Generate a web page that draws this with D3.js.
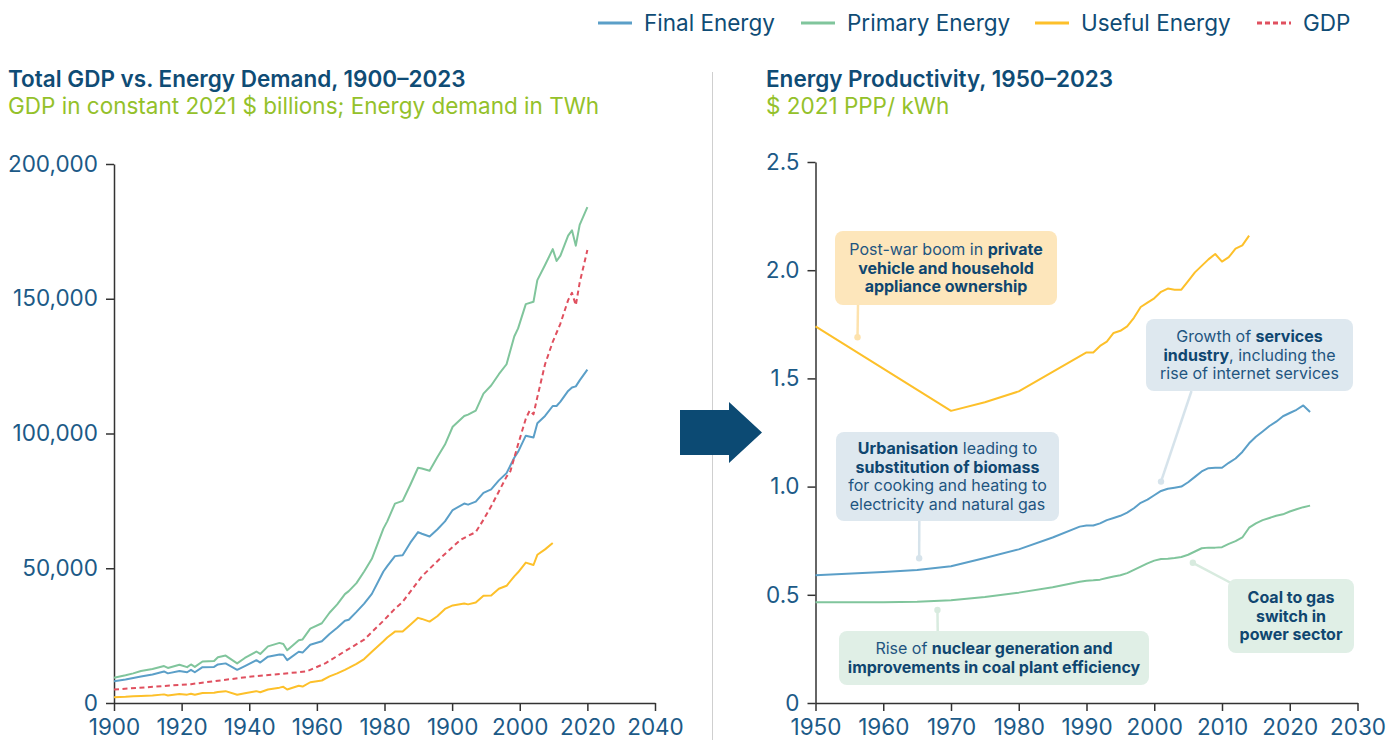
<!DOCTYPE html>
<html>
<head>
<meta charset="utf-8">
<script src="https://cdn.jsdelivr.net/npm/d3@7"></script>
<style>
  html, body { margin: 0; padding: 0; background: #ffffff; }
  svg { display: block; font-family: Inter, "Noto Sans", sans-serif; }
</style>
</head>
<body>
<svg id="chart" width="1396" height="740"></svg>
<script>
// ---- Left panel: world GDP and energy demand, 1900–2023 ----
const energyYears = [1900, 1903, 1905, 1907, 1910, 1913, 1914, 1917, 1919, 1920, 1921, 1923, 1926, 1927, 1929,
  1932, 1934, 1937, 1938, 1940, 1943, 1944, 1945, 1948, 1949, 1951, 1954, 1956, 1958, 1960, 1961, 1963,
  1965, 1967, 1970, 1971, 1973, 1975, 1977, 1979, 1980, 1982, 1984, 1986, 1988, 1991, 1992, 1994, 1996,
  1998, 2000, 2002, 2004, 2005, 2007, 2009, 2010, 2012, 2014, 2015, 2016, 2018, 2019, 2020, 2021, 2023];
const primaryEnergyTWh = [9400, 10300, 11000, 11900, 12600, 13700, 13000, 14200, 13300, 14300, 13400, 15400,
  15600, 17000, 17600, 14700, 16700, 19100, 18200, 21000, 22300, 21900, 19600, 23300, 23600, 27600, 29600,
  33500, 36600, 40400, 41500, 44500, 48800, 53500, 64700, 67400, 74000, 75000, 81000, 87300, 87000, 86200,
  91200, 95900, 102500, 106500, 107000, 108500, 114800, 117800, 122000, 125700, 136000, 139000, 148000,
  148900, 156900, 162500, 168400, 164000, 166000, 173400, 175400, 169700, 177400, 184000];
const finalEnergyTWh = [8100, 8700, 9300, 9800, 10600, 11700, 11000, 11900, 11400, 12300, 11400, 13300,
  13400, 14300, 14700, 12300, 13700, 15900, 15000, 17200, 18000, 17900, 15900, 19000, 18700, 21600, 22900,
  25600, 27900, 30500, 30900, 33800, 36900, 40500, 48800, 50800, 54500, 54800, 59500, 63400, 62800, 61800,
  64400, 67400, 71600, 74000, 73600, 74700, 78000, 79300, 82600, 85300, 91000, 93200, 99200, 98500, 103800,
  106500, 110200, 110200, 111800, 115800, 117100, 117500, 119700, 123700];
const usefulEnergyTWh = [2100, 2300, 2500, 2600, 2800, 3200, 2800, 3300, 3100, 3450, 3050, 3700, 3800, 4100,
  4400, 3050, 3600, 4400, 4000, 5000, 5700, 6000, 5000, 6400, 6100, 7700, 8350, 9900, 11000, 12300, 13000,
  14500, 16300, 19000, 22900, 24300, 26500, 26500, 29000, 31600, 31200, 30200, 32200, 34900, 36200, 36900,
  36600, 37300, 39800, 39900, 42400, 43500, 47000, 48500, 52100, 51200, 55000, 57000, 59400];
const gdpYears = [1900, 1920, 1935, 1950, 1955, 1960, 1965, 1970, 1973, 1975, 1980, 1985, 1990, 1992, 1994,
  1996, 1998, 2000, 2002, 2003, 2005, 2007, 2008, 2009, 2010, 2012, 2014, 2016, 2018, 2019, 2020, 2021,
  2022, 2023];
const gdpBillions = [5000, 7000, 9700, 11700, 14800, 19200, 23500, 30500, 35000, 37500, 47000, 54000, 60500,
  62000, 63400, 68000, 73000, 78500, 84000, 86000, 96000, 105500, 108500, 107100, 113500, 125700, 134000,
  140800, 149500, 152200, 147600, 156000, 162000, 168100];
const leftYTicks = [0, 50000, 100000, 150000, 200000];
const leftXTickLabels = ["1900", "1920", "1940", "1960", "1980", "1900", "2000", "2020", "2040"];

// ---- Right panel: energy productivity, $ 2021 PPP per kWh ----
const productivityYears = [1950, 1960, 1965, 1970, 1975, 1980, 1985, 1989, 1990, 1991, 1992, 1993, 1994, 1995,
  1996, 1997, 1998, 1999, 2000, 2001, 2002, 2003, 2004, 2005, 2006, 2007, 2008, 2009, 2010, 2011, 2012,
  2013, 2014, 2015, 2016, 2017, 2018, 2019, 2020, 2021, 2022, 2023];
const finalProductivity = [0.59, 0.605, 0.615, 0.632, 0.67, 0.71, 0.765, 0.815, 0.82, 0.82, 0.83, 0.845, 0.855,
  0.865, 0.88, 0.9, 0.925, 0.94, 0.96, 0.98, 0.99, 0.995, 1.0, 1.02, 1.045, 1.07, 1.085, 1.087, 1.087, 1.11,
  1.13, 1.16, 1.2, 1.23, 1.255, 1.28, 1.3, 1.325, 1.34, 1.355, 1.375, 1.345];
const primaryProductivity = [0.465, 0.465, 0.468, 0.475, 0.49, 0.51, 0.535, 0.56, 0.565, 0.567, 0.57, 0.578,
  0.585, 0.59, 0.6, 0.615, 0.63, 0.645, 0.658, 0.665, 0.667, 0.67, 0.675, 0.685, 0.7, 0.715, 0.718, 0.718,
  0.72, 0.735, 0.748, 0.765, 0.81, 0.83, 0.845, 0.855, 0.865, 0.872, 0.885, 0.895, 0.905, 0.912];
const usefulYears = [1950, 1970, 1975, 1980, 1985, 1990, 1991, 1992, 1993, 1994, 1995, 1996, 1997, 1998, 1999,
  2000, 2001, 2002, 2003, 2004, 2005, 2006, 2007, 2008, 2009, 2010, 2011, 2012, 2013, 2014];
const usefulProductivity = [1.74, 1.35, 1.39, 1.44, 1.53, 1.62, 1.62, 1.65, 1.67, 1.71, 1.72, 1.74, 1.78, 1.83,
  1.85, 1.87, 1.9, 1.915, 1.91, 1.91, 1.95, 1.99, 2.02, 2.05, 2.075, 2.04, 2.06, 2.1, 2.115, 2.16];
const rightYTicks = [0, 0.5, 1, 1.5, 2, 2.5];
const rightXTicks = [1950, 1960, 1970, 1980, 1990, 2000, 2010, 2020, 2030];

const COLORS = {
  final: "#5b9fc8", primary: "#80c59c", useful: "#fdc02a", gdp: "#e0505f",
  title: "#0f4c75", subtitle: "#94c12a", tick: "#1c5a87", axis: "#333333", arrow: "#0c4a73"
};
const FONT = 22.5;

const svg = d3.select("#chart");
const zip = (xs, ys) => ys.map((v, i) => [xs[i], v]);

// ---------- Legend ----------
const legendItems = [
  { label: "Final Energy", color: COLORS.final, dash: null, x: 598 },
  { label: "Primary Energy", color: COLORS.primary, dash: null, x: 801 },
  { label: "Useful Energy", color: COLORS.useful, dash: null, x: 1035 },
  { label: "GDP", color: COLORS.gdp, dash: "5,3", x: 1257 }
];
const legend = svg.append("g");
legendItems.forEach(it => {
  legend.append("line").attr("x1", it.x).attr("x2", it.x + 34).attr("y1", 23).attr("y2", 23)
    .attr("stroke", it.color).attr("stroke-width", 3).attr("stroke-dasharray", it.dash);
  legend.append("text").attr("x", it.x + 46).attr("y", 31).attr("fill", COLORS.title)
    .attr("font-size", FONT).text(it.label);
});

// ---------- Titles ----------
function titleBlock(x, title, subtitle) {
  svg.append("text").attr("x", x).attr("y", 87).attr("font-size", FONT).attr("font-weight", 600)
    .attr("fill", COLORS.title).text(title);
  svg.append("text").attr("x", x).attr("y", 114).attr("font-size", FONT)
    .attr("fill", COLORS.subtitle).text(subtitle);
}
titleBlock(8, "Total GDP vs. Energy Demand, 1900–2023", "GDP in constant 2021 $ billions; Energy demand in TWh");
titleBlock(766, "Energy Productivity, 1950–2023", "$ 2021 PPP/ kWh");

// Panel separator
svg.append("line").attr("x1", 712.5).attr("x2", 712.5).attr("y1", 72).attr("y2", 740)
  .attr("stroke", "#cfcfcf").attr("stroke-width", 1);

// Block arrow between the panels
svg.append("path")
  .attr("d", "M680,410 L729,410 L729,402 L762,432.5 L729,463 L729,455 L680,455 Z")
  .attr("fill", COLORS.arrow);

function styleAxis(g) {
  g.select(".domain").attr("stroke", COLORS.axis).attr("stroke-width", 1.5);
  g.selectAll(".tick line").attr("stroke", COLORS.axis).attr("stroke-width", 1.5);
  g.selectAll(".tick text").attr("fill", COLORS.tick).attr("font-size", FONT)
    .attr("font-family", "Inter, 'Noto Sans', sans-serif");
}

// ---------- Left panel ----------
const L = { left: 114, right: 655, top: 164, bottom: 703 };
const xTickIdx = d3.scaleLinear().domain([0, leftXTickLabels.length - 1]).range([L.left, L.right]);
// Years are laid out so that 2023 falls on the seventh tick of the axis.
const xLeft = d3.scaleLinear().domain([1900, 2023]).range([xTickIdx(0), xTickIdx(7)]);
const yLeft = d3.scaleLinear().domain([0, 200000]).range([L.bottom, L.top]);

const gL = svg.append("g");
gL.append("g").attr("transform", `translate(0,${L.bottom})`)
  .call(d3.axisBottom(xTickIdx).tickValues(d3.range(leftXTickLabels.length))
    .tickFormat(i => leftXTickLabels[i]).tickSize(8).tickSizeOuter(0).tickPadding(8))
  .call(styleAxis);
gL.append("g").attr("transform", `translate(${L.left},0)`)
  .call(d3.axisLeft(yLeft).tickValues(leftYTicks).tickFormat(d3.format(","))
    .tickSize(8).tickSizeOuter(0).tickPadding(8))
  .call(styleAxis);

const lineLeft = d3.line().x(d => xLeft(d[0])).y(d => yLeft(d[1]));
const leftSeries = [
  { data: zip(energyYears, usefulEnergyTWh), color: COLORS.useful, dash: null },
  { data: zip(energyYears, finalEnergyTWh), color: COLORS.final, dash: null },
  { data: zip(energyYears, primaryEnergyTWh), color: COLORS.primary, dash: null },
  { data: zip(gdpYears, gdpBillions), color: COLORS.gdp, dash: "5,3.5" }
];
leftSeries.forEach(s => {
  gL.append("path").datum(s.data).attr("d", lineLeft).attr("fill", "none")
    .attr("stroke", s.color).attr("stroke-width", 2).attr("stroke-linejoin", "round")
    .attr("stroke-dasharray", s.dash);
});

// ---------- Right panel ----------
const R = { left: 815.5, right: 1357.5, top: 162, bottom: 703 };
const xRight = d3.scaleLinear().domain([1950, 2030]).range([R.left, R.right]);
const yRight = d3.scaleLinear().domain([0, 2.5]).range([R.bottom, R.top]);

const gR = svg.append("g");
gR.append("g").attr("transform", `translate(0,${R.bottom})`)
  .call(d3.axisBottom(xRight).tickValues(rightXTicks).tickFormat(d3.format("d"))
    .tickSize(8).tickSizeOuter(0).tickPadding(8))
  .call(styleAxis);
gR.append("g").attr("transform", `translate(${R.left},0)`)
  .call(d3.axisLeft(yRight).tickValues(rightYTicks).tickFormat(d => d === 0 ? "0" : d3.format(".1f")(d))
    .tickSize(8).tickSizeOuter(0).tickPadding(8))
  .call(styleAxis);

const lineRight = d3.line().x(d => xRight(d[0])).y(d => yRight(d[1]));
const rightSeries = [
  { data: zip(usefulYears, usefulProductivity), color: COLORS.useful },
  { data: zip(productivityYears, finalProductivity), color: COLORS.final },
  { data: zip(productivityYears, primaryProductivity), color: COLORS.primary }
];
rightSeries.forEach(s => {
  gR.append("path").datum(s.data).attr("d", lineRight).attr("fill", "none")
    .attr("stroke", s.color).attr("stroke-width", 2).attr("stroke-linejoin", "round");
});

// ---------- Annotations ----------
// Each line is a list of [text, bold] runs; anchor is given in data units.
const annotations = [
  { box: [835, 231, 222, 74], fill: "#fde6bb", stroke: "#fde2ad", join: [858, 305], anchor: [1956.2, 1.69],
    lines: [[["Post-war boom in ", false], ["private", true]], [["vehicle and household", true]],
            [["appliance ownership", true]]] },
  { box: [1146, 319, 207, 72], fill: "#dee8ef", stroke: "#d6e3eb", join: [1191.5, 391], anchor: [2001, 1.023],
    lines: [[["Growth of ", false], ["services", true]], [["industry", true], [", including the", false]],
            [["rise of internet services", false]]] },
  { box: [836, 432, 223, 89], fill: "#dee8ef", stroke: "#d6e3eb", join: [919.3, 521], anchor: [1965.3, 0.669],
    lines: [[["Urbanisation", true], [" leading to", false]], [["substitution of biomass", true]],
            [["for cooking and heating to", false]], [["electricity and natural gas", false]]] },
  { box: [839, 631, 310, 54], fill: "#e0efe6", stroke: "#d8ebdf", join: [937.7, 631], anchor: [1968, 0.43],
    lines: [[["Rise of ", false], ["nuclear generation and", true]],
            [["improvements in coal plant efficiency", true]]] },
  { box: [1228, 579, 126, 74], fill: "#e0efe6", stroke: "#d8ebdf", join: [1231, 583], anchor: [2005.7, 0.648],
    lines: [[["Coal to gas", true]], [["switch in", true]], [["power sector", true]]] }
];
const gA = svg.append("g");
annotations.forEach(a => {
  const [bx, by, bw, bh] = a.box;
  const ax = xRight(a.anchor[0]), ay = yRight(a.anchor[1]);
  gA.append("line").attr("x1", a.join[0]).attr("y1", a.join[1]).attr("x2", ax).attr("y2", ay)
    .attr("stroke", a.stroke).attr("stroke-width", 2.5);
  gA.append("circle").attr("cx", ax).attr("cy", ay).attr("r", 3.2).attr("fill", a.stroke);
  gA.append("rect").attr("x", bx).attr("y", by).attr("width", bw).attr("height", bh)
    .attr("rx", 8).attr("fill", a.fill);
  const lh = 18.5;
  const firstCenter = by + bh / 2 - (a.lines.length - 1) * lh / 2;
  a.lines.forEach((runs, i) => {
    const t = gA.append("text").attr("x", bx + bw / 2).attr("y", firstCenter + i * lh + 5.5)
      .attr("text-anchor", "middle").attr("font-size", 16).attr("fill", "#1b4f78");
    runs.forEach(([txt, bold]) => {
      t.append("tspan").attr("font-weight", bold ? 700 : 400)
        .attr("fill", bold ? "#0f4670" : "#1f5580").text(txt);
    });
  });
});
</script>
</body>
</html>
